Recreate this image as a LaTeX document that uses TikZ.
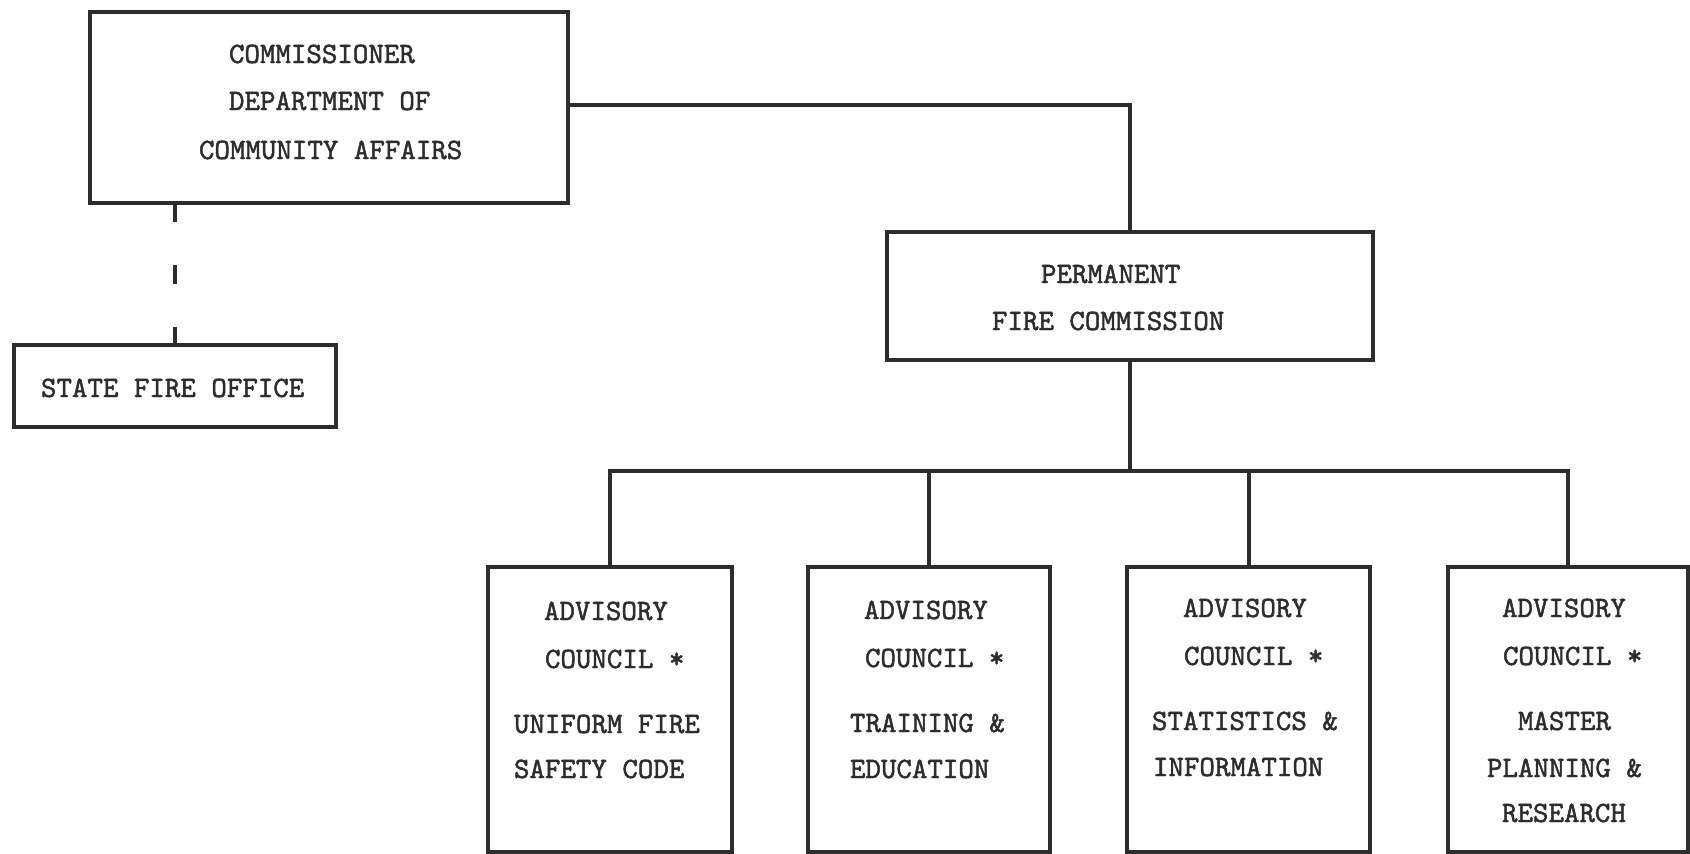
\documentclass[tikz,border=0pt]{standalone}
\usepackage{fontspec}
\newfontfamily\typew{lmmono10-regular.otf}[FakeBold=1.6]
\usetikzlibrary{calc}
\definecolor{ink}{RGB}{45,45,45}
\tikzset{
  box/.style={draw=ink, line width=4pt, rectangle, outer sep=0pt, inner sep=0pt},
  conn/.style={draw=ink, line width=4pt},
  thinconn/.style={draw=ink, line width=3.2pt},
  dashconn/.style={draw=ink, line width=4pt, dash pattern=on 19pt off 43pt},
  txt/.style={anchor=base west, inner sep=0pt, outer sep=0pt, text=ink,
    font=\typew\fontsize{29.5}{30}\selectfont}
}
\newcommand\tline[4]{\node[txt] (#1) at (#2,#3) {#4};}
\begin{document}
\begin{tikzpicture}[x=1pt,y=-1pt]
\useasboundingbox (0,0) rectangle (1690,854);
% boxes
\node[box, minimum width=478pt, minimum height=191pt] (comm) at (329,107.5) {};
\node[box, minimum width=322pt, minimum height=82pt] (state) at (175,386) {};
\node[box, minimum width=486pt, minimum height=128pt] (pfc) at (1130,296) {};
\node[box, minimum width=244pt, minimum height=285pt] (a1) at (610,709.5) {};
\node[box, minimum width=242pt, minimum height=285pt] (a2) at (929,709.5) {};
\node[box, minimum width=243pt, minimum height=285pt] (a3) at (1248.5,709.5) {};
\node[box, minimum width=240pt, minimum height=285pt] (a4) at (1568,709.5) {};
% texts
\tline{c1}{229}{63}{COMMISSIONER}
\tline{c2}{229}{110}{DEPARTMENT OF}
\tline{c3}{199}{159}{COMMUNITY AFFAIRS}
\tline{s1}{41}{397}{STATE FIRE OFFICE}
\tline{p1}{1041}{283}{PERMANENT}
\tline{p2}{992}{330}{FIRE COMMISSION}
% advisory 1
\tline{a1l1}{544}{620}{ADVISORY}
\tline{a1l2}{545}{668}{COUNCIL *}
\tline{a1l3}{514}{733}{UNIFORM FIRE}
\tline{a1l4}{514}{778}{SAFETY CODE}
% advisory 2
\tline{a2l1}{864}{619}{ADVISORY}
\tline{a2l2}{865}{667}{COUNCIL *}
\tline{a2l3}{850}{732}{TRAINING \&}
\tline{a2l4}{850}{778}{EDUCATION}
% advisory 3
\tline{a3l1}{1183}{617}{ADVISORY}
\tline{a3l2}{1184}{665}{COUNCIL *}
\tline{a3l3}{1152}{730}{STATISTICS \&}
\tline{a3l4}{1153}{776}{INFORMATION}
% advisory 4
\tline{a4l1}{1502}{617}{ADVISORY}
\tline{a4l2}{1503}{665}{COUNCIL *}
\tline{a4l3}{1518}{730}{MASTER}
\tline{a4l4}{1487}{777}{PLANNING \&}
\tline{a4l5}{1502}{822}{RESEARCH}
% connectors
\coordinate (bus) at (1128,471);
\draw[thinconn] (comm.east) ++(0,-2.5) -| (pfc.north);
\draw[dashconn] (state.north |- comm.south) -- (state.north);
\draw[conn] (pfc.south) -- (pfc.south |- bus);
\draw[conn] (a1.north) -- (a1.north |- bus) -- (a4.north |- bus) -- (a4.north);
\draw[conn] (a2.north |- bus) -- (a2.north);
\draw[conn] (a3.north |- bus) -- (a3.north);
\end{tikzpicture}
\end{document}
